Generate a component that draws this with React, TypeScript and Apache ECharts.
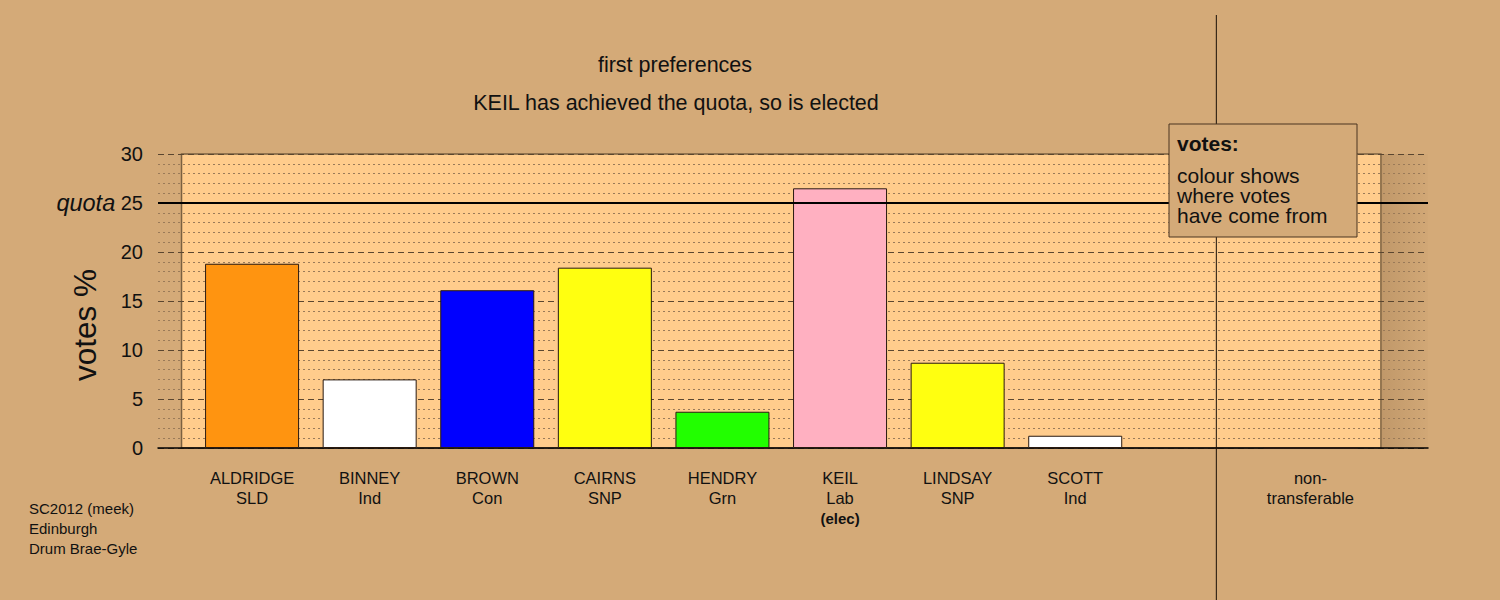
import React, { useEffect, useRef } from "react";
import * as echarts from "echarts";

const candidates = ["ALDRIDGE", "BINNEY", "BROWN", "CAIRNS", "HENDRY", "KEIL", "LINDSAY", "SCOTT", "", "non-\ntransferable"];
const parties = ["SLD", "Ind", "Con", "SNP", "Grn", "Lab", "SNP", "Ind", "", ""];
const votes: (number | null)[] = [18.8, 7.0, 16.1, 18.4, 3.7, 26.5, 8.7, 1.25, null, 0];
const barColors = ["#FF9410", "#FFFFFF", "#0000FF", "#FFFF10", "#22FF00", "#FFB0C1", "#FFFF10", "#FFFFFF", "#FFFFFF", "#FFFFFF"];
const electedIndex = [5];
const quota = 25;
const titleLines = ["first preferences", "KEIL has achieved the quota, so is elected"];
const noteLines = ["SC2012 (meek)", "Edinburgh", "Drum Brae-Gyle"];
const boxTitle = "votes:";
const boxLines = ["colour shows", "where votes", "have come from"];

const FONT = "Liberation Sans, Arial, sans-serif";
const BG = "#D4AA78";

export default function App() {
  const ref = useRef<HTMLDivElement>(null);
  useEffect(() => {
    document.body.style.margin = "0";
    const chart = echarts.init(ref.current!, null, { renderer: "svg" });
    const option: any = {
      animation: false,
      backgroundColor: BG,
      textStyle: { fontFamily: FONT },
      title: [
        { text: titleLines[0], left: 670, top: 49, textAlign: "center", textStyle: { fontSize: 21.5, fontWeight: "normal", color: "#111", fontFamily: FONT } },
        { text: titleLines[1], left: 671, top: 87, textAlign: "center", textStyle: { fontSize: 21.5, fontWeight: "normal", color: "#111", fontFamily: FONT } },
      ],
      grid: { left: 158, right: 72, top: 154, bottom: 152, containLabel: false },
      xAxis: {
        type: "value",
        min: -0.8,
        max: 10,
        axisLine: { show: true, onZero: false, lineStyle: { color: "#000", width: 1.5 } },
        axisTick: { show: false },
        splitLine: { show: false },
        axisLabel: {
          customValues: candidates.map((_, i) => i),
          margin: 20,
          fontSize: 16.5,
          lineHeight: 20,
          color: "#111",
          fontFamily: FONT,
          formatter: (v: number) => {
            const i = Math.round(v);
            const name = candidates[i] || "";
            const party = parties[i] || "";
            let s = party ? name + "\n" + party : name;
            if (electedIndex.includes(i)) s += "\n{e|(elec)}";
            return s;
          },
          rich: { e: { fontSize: 15, fontWeight: "bold", color: "#111", lineHeight: 20, fontFamily: FONT } },
        },
      },
      yAxis: {
        type: "value",
        min: 0,
        max: 30,
        interval: 5,
        name: "votes %",
        nameLocation: "middle",
        nameGap: 57,
        nameMoveOverlap: false,
        nameTextStyle: { fontSize: 31.5, color: "#111", fontFamily: FONT, padding: [0, 48, 0, 0] },
        axisLine: { show: false },
        axisTick: { show: false },
        axisLabel: {
          fontSize: 20,
          margin: 15,
          color: "#111",
          fontFamily: FONT,
          formatter: (v: number) => (v === quota ? "{q|quota} " + v : String(v)),
          rich: { q: { fontSize: 23.5, fontStyle: "italic", color: "#111", fontFamily: FONT } },
        },
        splitLine: { show: true, lineStyle: { color: "#5a4630", width: 1, type: [6, 4] } },
        minorTick: { show: false, splitNumber: 5 },
        minorSplitLine: { show: true, lineStyle: { color: "#9a7a58", width: 1, type: [2, 3] } },
      },
      series: [
        {
          type: "bar",
          barWidth: 94,
          data: votes.map((v, i) => ({
            value: [i, v],
            itemStyle: { color: barColors[i], borderColor: "#2a1a10", borderWidth: 1 },
          })),
          markLine: {
            silent: true,
            symbol: "none",
            label: { show: false },
            lineStyle: { color: "#000", width: 2, type: "solid" },
            data: [{ yAxis: quota }],
          },
        },
      ],
    };
    chart.setOption(option);

    const px = (x: number) => chart.convertToPixel({ xAxisIndex: 0 }, x) as number;
    const py = (y: number) => chart.convertToPixel({ yAxisIndex: 0 }, y) as number;
    const xL = px(-0.6);
    const xR = px(9.6);
    const xEnd = px(10);
    const xDiv = px(8.2);
    const yTop = py(30);
    const yBot = py(0);

    chart.setOption({
      graphic: [
        {
          type: "rect",
          z: -10,
          silent: true,
          shape: { x: xL, y: yTop, width: xR - xL, height: yBot - yTop },
          style: { fill: "#FFCC8C", stroke: "#7a6040", lineWidth: 1.5 },
        },
        {
          type: "rect",
          z: -10,
          silent: true,
          shape: { x: xR + 1, y: yTop, width: xEnd - xR - 1, height: yBot - yTop },
          style: {
            fill: new echarts.graphic.LinearGradient(0, 0, 1, 0, [
              { offset: 0, color: "rgba(90,60,30,0.16)" },
              { offset: 1, color: "rgba(90,60,30,0.02)" },
            ]),
          },
        },
        {
          type: "line",
          z: 50,
          silent: true,
          shape: { x1: xDiv, y1: 15, x2: xDiv, y2: 600 },
          style: { stroke: "#1a1008", lineWidth: 1 },
        },
        {
          type: "rect",
          z: 100,
          silent: true,
          shape: { x: 1169, y: 124, width: 188, height: 113 },
          style: { fill: BG, stroke: "#4a3420", lineWidth: 1 },
        },
        {
          type: "text",
          z: 101,
          silent: true,
          style: { x: 1177, y: 143, text: boxTitle, fontSize: 21, fontWeight: "bold", fill: "#111", fontFamily: FONT, verticalAlign: "middle" },
        },
        {
          type: "text",
          z: 101,
          silent: true,
          style: { x: 1177, y: 165, text: boxLines.join("\n"), fontSize: 21, lineHeight: 20, fill: "#111", fontFamily: FONT, verticalAlign: "top" },
        },
        {
          type: "text",
          z: 101,
          silent: true,
          style: { x: 29, y: 498, text: noteLines.join("\n"), fontSize: 15, lineHeight: 20, fill: "#111", fontFamily: FONT, verticalAlign: "top" },
        },
      ],
    });

    return () => chart.dispose();
  }, []);
  return <div ref={ref} style={{ width: 1500, height: 600 }} />;
}
